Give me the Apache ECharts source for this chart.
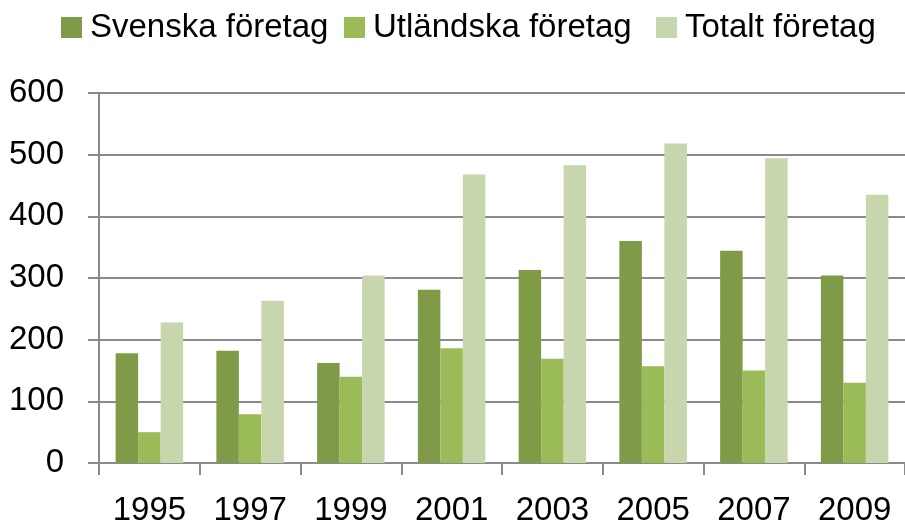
<!DOCTYPE html>
<html>
<head>
<meta charset="utf-8">
<script src="https://cdn.jsdelivr.net/npm/echarts@6/dist/echarts.min.js"></script>
<style>
  html, body { margin: 0; padding: 0; background: #fff; }
  #chart { width: 905px; height: 528px; }
</style>
</head>
<body>
<div id="chart"></div>
<script>
// data
const years = ['1995', '1997', '1999', '2001', '2003', '2005', '2007', '2009']
const svenska = [178, 182, 162, 281, 313, 360, 344, 304]
const utlandska = [50, 79, 140, 186, 169, 157, 150, 130]
const totalt = [228, 263, 304, 468, 483, 518, 494, 435]
const yTicks = [0, 100, 200, 300, 400, 500, 600]
const seriesNames = ['Svenska företag', 'Utländska företag', 'Totalt företag']

const fontFamily = "'Liberation Sans', Arial, sans-serif"
const gray = '#8a8a8a'

const chart = echarts.init(document.getElementById('chart'))

function bar(name, data, color) {
  return {
    name: name,
    type: 'bar',
    data: data,
    barGap: '0%',
    barCategoryGap: '33%',
    itemStyle: { color: color },
    animation: false
  }
}

// one legend per item so each sits where it does in the original
const legendLeft = [56, 339, 651]
const legends = seriesNames.map((name, i) => ({
  left: legendLeft[i],
  top: 6,
  itemWidth: 21,
  itemHeight: 21,
  itemGap: 0,
  icon: 'rect',
  textStyle: { fontSize: 33, color: '#000', fontFamily: fontFamily, padding: [0, 0, 0, 3] },
  data: [name]
}))

chart.setOption({
  textStyle: { fontFamily: fontFamily },
  legend: legends,
  grid: {
    left: 99,
    right: -4,
    top: 93,
    bottom: 65
  },
  xAxis: {
    type: 'category',
    data: years,
    boundaryGap: true,
    axisLine: { lineStyle: { color: gray, width: 2 } },
    axisTick: { show: true, length: 12, interval: 0, lineStyle: { color: gray, width: 2 } },
    axisLabel: { fontSize: 33, color: '#000', margin: 31, interval: 0 }
  },
  yAxis: {
    type: 'value',
    min: yTicks[0],
    max: yTicks[yTicks.length - 1],
    interval: 100,
    axisLine: { show: true, lineStyle: { color: gray, width: 2 } },
    axisTick: { show: true, length: 11, lineStyle: { color: gray, width: 2 } },
    axisLabel: { fontSize: 33, color: '#000', margin: 35 },
    splitLine: { show: true, lineStyle: { color: gray, width: 2 } }
  },
  series: [
    bar(seriesNames[0], svenska, '#7f9b48'),
    bar(seriesNames[1], utlandska, '#9bbb59'),
    bar(seriesNames[2], totalt, '#c7d6ac')
  ]
})
</script>
</body>
</html>
